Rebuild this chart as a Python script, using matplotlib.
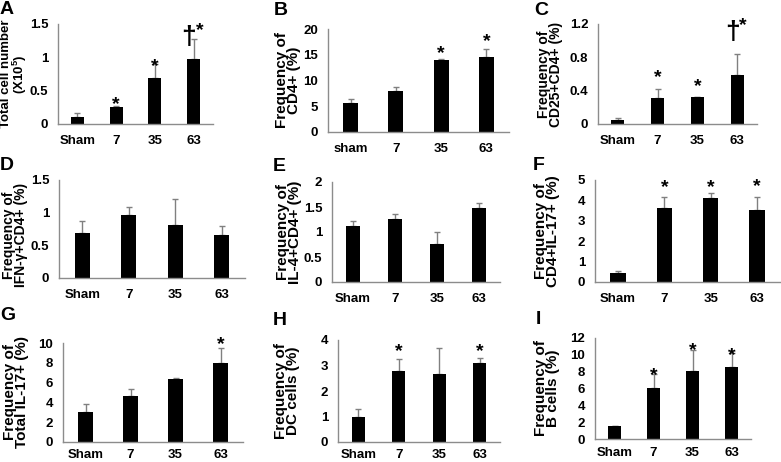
import matplotlib.pyplot as plt
from matplotlib.font_manager import FontProperties

plt.rcParams['font.family'] = ['Liberation Sans', 'DejaVu Sans']
plt.rcParams['font.weight'] = 'bold'
plt.rcParams['mathtext.fontset'] = 'custom'
plt.rcParams['mathtext.rm'] = 'Liberation Sans:bold'
plt.rcParams['mathtext.it'] = 'Liberation Sans:bold'
plt.rcParams['mathtext.bf'] = 'Liberation Sans:bold'

# groups (days after treatment)
groups = ['Sham', '7', '35', '63']
groups_b = ['sham', '7', '35', '63']

# values: mean, upper error
a_mean = [0.11, 0.255, 0.685, 0.975]
a_err = [0.05, 0.01, 0.21, 0.305]
a_sig = ['', '*', '*', '\u2020*']

b_mean = [5.6, 7.9, 14.0, 14.5]
b_err = [0.8, 0.85, 0.2, 1.6]
b_sig = ['', '', '*', '*']

c_mean = [0.048, 0.314, 0.32, 0.59]
c_err = [0.02, 0.106, 0.01, 0.25]
c_sig = ['', '*', '*', '\u2020*']

d_mean = [0.69, 0.96, 0.81, 0.66]
d_err = [0.18, 0.13, 0.40, 0.13]
d_sig = ['', '', '', '']

e_mean = [1.12, 1.27, 0.76, 1.49]
e_err = [0.10, 0.10, 0.24, 0.10]
e_sig = ['', '', '', '']

f_mean = [0.43, 3.61, 4.13, 3.55]
f_err = [0.12, 0.54, 0.22, 0.63]
f_sig = ['', '*', '*', '*']

g_mean = [3.06, 4.68, 6.36, 7.95]
g_err = [0.81, 0.67, 0.10, 1.51]
g_sig = ['', '', '', '*']

h_mean = [0.98, 2.78, 2.68, 3.08]
h_err = [0.31, 0.46, 0.99, 0.20]
h_sig = ['', '*', '', '*']

i_mean = [1.58, 6.02, 8.04, 8.51]
i_err = [0.0, 1.70, 2.49, 1.71]
i_sig = ['', '*', '*', '*']

W, H = 781, 462
fig = plt.figure(figsize=(W / 100, H / 100), dpi=100)

tick_font = FontProperties(family=['Liberation Sans Narrow', 'Liberation Sans', 'DejaVu Sans'],
                           weight='bold', size=9.5)
axis_grey = '#8c8c8c'
PX = 0.72  # points per pixel


def panel(letter, letter_xy, box, label_x, mean, err, sig, yticks, ylabel, xlabels, gaps,
          label_size=11, xpad=8, label_y=0.5):
    x0, x1, top, base = box
    ax = fig.add_axes([x0 / W, 1 - base / H, (x1 - x0) / W, (base - top) / H])
    pos = range(len(mean))
    ax.bar(pos, mean, width=0.33, color='black', zorder=2)
    ax.errorbar(pos, mean, yerr=[[0] * len(err), err], fmt='none', ecolor='#808080',
                elinewidth=1, capsize=2.5, capthick=1, zorder=1)
    ax.set_xlim(-0.5, 3.5)
    ax.set_ylim(0, yticks[-1])
    ax.set_yticks(yticks)
    ax.set_yticklabels(['%g' % t for t in yticks], fontproperties=tick_font)
    ax.set_xticks(list(pos))
    ax.set_xticklabels(xlabels, fontproperties=tick_font)
    ax.tick_params(axis='both', length=0)
    ax.tick_params(axis='y', pad=7)
    ax.tick_params(axis='x', pad=xpad)
    for s in ['top', 'right']:
        ax.spines[s].set_visible(False)
    for s in ['left', 'bottom']:
        ax.spines[s].set_color(axis_grey)
        ax.spines[s].set_linewidth(1)
    ax.set_ylabel(ylabel, fontsize=label_size, fontweight='bold', linespacing=0.85,
                  va='center')
    ax.yaxis.set_label_coords((label_x - x0) / (x1 - x0), label_y)
    for i, s in enumerate(sig):
        if not s:
            continue
        y = mean[i] + err[i]
        off = gaps[i] * PX - 6
        if s.startswith('\u2020'):
            ax.annotate('\u2020', (i, y), xytext=(-5 * PX, off + 2.5),
                        textcoords='offset points', ha='center', va='baseline',
                        fontsize=19, fontweight='bold', annotation_clip=False)
            ax.annotate('*', (i, y), xytext=(6 * PX, off + 8.5),
                        textcoords='offset points', ha='center', va='baseline',
                        fontsize=14, fontweight='bold', annotation_clip=False)
        else:
            ax.annotate(s, (i, y), xytext=(0, off),
                        textcoords='offset points', ha='center', va='baseline',
                        fontsize=14, fontweight='bold', annotation_clip=False)
    fig.text(letter_xy[0] / W, 1 - letter_xy[1] / H, letter, fontsize=14,
             fontweight='bold', ha='left', va='top')
    return ax


panel('A', (0, 1), (58, 213, 24, 124), 14.5, a_mean, a_err, a_sig, [0, 0.5, 1, 1.5],
      'Total cell number\n(X10$^{5}$)', groups, [0, 6, 2, 0], label_size=9.5)
panel('B', (274, 2), (328, 509, 29, 132), 288, b_mean, b_err, b_sig, [0, 5, 10, 15, 20],
      'Frequency of\nCD4+ (%)', groups_b, [0, 0, 9, 11])
panel('C', (534, 2), (598, 757, 24, 124), 550, c_mean, c_err, c_sig, [0, 0.4, 0.8, 1.2],
      'Frequency of\nCD25+CD4+ (%)', groups, [0, 15, 14, 20], label_size=10)
panel('D', (0, 157), (59, 245, 180, 278), 15, d_mean, d_err, d_sig, [0, 0.5, 1, 1.5],
      'Frequency of\nIFN-\u03b3+CD4+ (%)', groups, [0, 0, 0, 0], label_size=10,
      label_y=0.44)
panel('E', (273, 158), (332, 500, 182, 282), 289, e_mean, e_err, e_sig, [0, 0.5, 1, 1.5, 2],
      'Frequency of\nIL-4+CD4+ (%)', groups, [0, 0, 0, 0])
panel('F', (533, 157), (595, 780, 180, 282), 547, f_mean, f_err, f_sig, [0, 1, 2, 3, 4, 5],
      'Frequency of\nCD4+IL-17+ (%)', groups, [0, 14, 10, 14])
panel('G', (0, 307), (63, 243, 343, 442), 16, g_mean, g_err, g_sig, [0, 2, 4, 6, 8, 10],
      'Frequency of\nTotal IL-17+ (%)', groups, [0, 0, 0, 8], xpad=5)
panel('H', (273, 312), (338, 500, 340, 442), 287, h_mean, h_err, h_sig, [0, 1, 2, 3, 4],
      'Frequency of\nDC cells (%)', groups, [0, 12, 0, 11], xpad=5)
panel('I', (536, 311), (595, 751, 338, 439), 547, i_mean, i_err, i_sig, [0, 2, 4, 6, 8, 10, 12],
      'Frequency of\nB cells (%)', groups, [0, 2, 4, 1], xpad=6)

fig.savefig('out.png', dpi=100)
